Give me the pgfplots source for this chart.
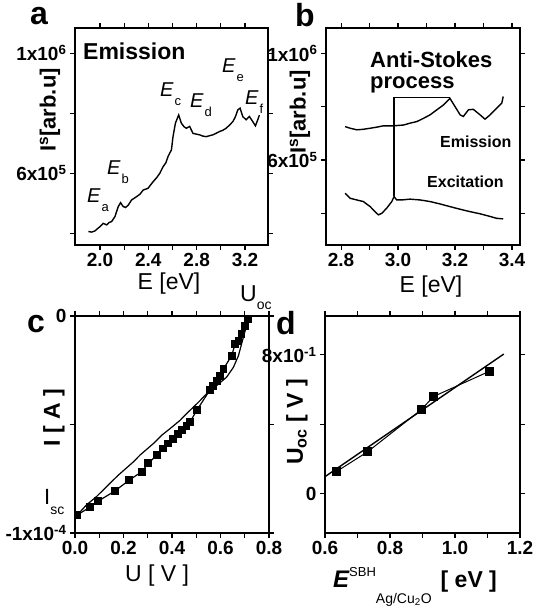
\documentclass[border=0pt]{standalone}
\usepackage{fontspec}
\setmainfont{Liberation Sans}
\usepackage{pgfplots}
\pgfplotsset{compat=1.18}
\newcommand\fs[1]{\fontsize{#1}{#1}\selectfont}
% E with a lowered subscript, as on the peaks of panel a
\newcommand\El[1]{{\itshape\fs{20}E}\hspace{1pt}\raisebox{-9pt}{\fs{13}#1}}

\pgfplotsset{
  panel/.style={
    scale only axis, anchor=south west,
    axis line style={line width=1.5pt},
    tick style={black, line width=1.2pt},
    major tick length=5pt, minor tick length=5pt,
    tick align=outside,
    scaled ticks=false,
    ticklabel style={font=\bfseries\fs{19}},
  },
  curve/.style={black, line width=1.4pt},
}

\begin{document}
\begin{tikzpicture}
\useasboundingbox (0,0) rectangle (535pt,607pt);

% ---------- a ----------
\begin{axis}[panel, at={(75pt,362pt)}, width=193pt, height=217pt,
  xmin=1.793, xmax=3.39, ymin=3.61e5, ymax=1.084e6,
  xtick={2.0,2.4,2.8,3.2}, xticklabels={2.0,2.4,2.8,3.2},
  minor xtick={2.2,2.6,3.0},
  ytick={4e5,6e5,8e5,1e6},
  yticklabels={,6x10\textsuperscript{5},,1x10\textsuperscript{6}}]
\addplot[curve] coordinates {
(1.904,4.06e5) (1.930,4.04e5) (1.959,4.08e5) (1.980,4.16e5) (2.000,4.22e5)
(2.027,4.33e5) (2.055,4.28e5) (2.075,4.36e5) (2.096,4.39e5) (2.124,4.56e5)
(2.151,4.89e5) (2.170,5.02e5) (2.192,4.89e5) (2.212,4.86e5) (2.234,4.94e5)
(2.261,5.11e5) (2.302,5.22e5) (2.330,5.30e5) (2.357,5.44e5) (2.398,5.50e5)
(2.420,5.62e5) (2.440,5.72e5) (2.470,5.86e5) (2.495,6.00e5) (2.522,6.22e5)
(2.545,6.35e5) (2.563,6.56e5) (2.591,6.78e5) (2.604,7.22e5) (2.624,7.67e5)
(2.651,7.94e5) (2.673,7.67e5) (2.695,7.55e5) (2.714,7.50e5) (2.742,7.56e5)
(2.769,7.33e5) (2.800,7.30e5) (2.824,7.28e5) (2.850,7.24e5) (2.879,7.22e5)
(2.905,7.25e5) (2.934,7.28e5) (2.960,7.33e5) (2.989,7.39e5) (3.015,7.43e5)
(3.044,7.50e5) (3.070,7.60e5) (3.099,7.72e5) (3.120,7.88e5) (3.140,8.11e5)
(3.159,8.17e5) (3.181,7.89e5) (3.209,7.78e5) (3.236,7.89e5) (3.264,7.72e5)
(3.286,7.58e5) (3.305,7.78e5) (3.319,7.94e5)};
\end{axis}

% ---------- b ----------
\begin{axis}[panel, at={(326pt,362pt)}, width=194pt, height=217pt,
  xmin=2.747, xmax=3.428, ymin=2.81e5, ymax=1.095e6,
  xtick={2.8,3.0,3.2,3.4}, xticklabels={2.8,3.0,3.2,3.4},
  minor xtick={2.9,3.1,3.3},
  ytick={4e5,6e5,8e5,1e6},
  yticklabels={,6x10\textsuperscript{5},,1x10\textsuperscript{6}}]
\addplot[curve] coordinates {
(2.814,7.25e5) (2.832,7.19e5) (2.855,7.13e5) (2.878,7.15e5) (2.902,7.19e5)
(2.925,7.23e5) (2.948,7.28e5) (2.984,7.28e5) (3.019,7.31e5) (3.042,7.38e5)
(3.066,7.44e5) (3.089,7.56e5) (3.112,7.69e5) (3.136,7.88e5) (3.159,8.06e5)
(3.182,8.31e5) (3.200,8.00e5) (3.218,7.69e5) (3.229,7.63e5) (3.247,7.88e5)
(3.264,7.90e5) (3.288,7.69e5) (3.305,7.53e5) (3.323,7.69e5) (3.346,7.94e5)
(3.364,8.13e5) (3.369,8.38e5)};
\addplot[curve] coordinates {
(2.814,4.75e5) (2.832,4.56e5) (2.855,4.50e5) (2.878,4.44e5) (2.902,4.25e5)
(2.919,4.06e5) (2.931,3.94e5) (2.943,4.00e5) (2.960,4.19e5) (2.978,4.44e5)
(2.986,4.63e5) (2.995,4.50e5) (3.013,4.50e5) (3.042,4.53e5) (3.077,4.50e5)
(3.112,4.44e5) (3.147,4.35e5) (3.182,4.25e5) (3.218,4.15e5) (3.253,4.06e5)
(3.288,3.98e5) (3.323,3.88e5) (3.346,3.81e5) (3.369,3.79e5)};
\addplot[black, line width=1.3pt] coordinates {(2.986,4.63e5) (2.986,8.34e5) (3.182,8.34e5)};
\end{axis}

% ---------- c ----------
\begin{axis}[panel, at={(75pt,74pt)}, width=194pt, height=217pt,
  xmin=0, xmax=0.8, ymin=-1e-4, ymax=0,
  xtick={0,0.2,0.4,0.6,0.8}, xticklabels={0.0,0.2,0.4,0.6,0.8},
  minor xtick={0.1,0.3,0.5,0.7},
  ytick={-1e-4,-5e-5,0},
  yticklabels={-1x10\textsuperscript{-4},,0}]
\addplot[black, line width=1.2pt, mark=square*, mark size=3.3pt] coordinates {
(0.010,-0.916e-4) (0.062,-0.881e-4) (0.096,-0.853e-4) (0.165,-0.806e-4)
(0.224,-0.756e-4) (0.275,-0.718e-4) (0.302,-0.679e-4) (0.337,-0.641e-4)
(0.364,-0.611e-4) (0.385,-0.588e-4) (0.405,-0.565e-4) (0.426,-0.542e-4)
(0.440,-0.527e-4) (0.460,-0.508e-4) (0.474,-0.489e-4) (0.502,-0.435e-4)
(0.557,-0.340e-4) (0.570,-0.321e-4) (0.584,-0.298e-4) (0.598,-0.275e-4)
(0.612,-0.244e-4) (0.646,-0.183e-4) (0.660,-0.130e-4) (0.674,-0.115e-4)
(0.687,-0.084e-4) (0.701,-0.046e-4) (0.715,-0.015e-4)};
\addplot[black, line width=1.2pt] coordinates {
(0.010,-0.916e-4) (0.048,-0.870e-4) (0.089,-0.832e-4) (0.144,-0.771e-4)
(0.179,-0.733e-4) (0.241,-0.672e-4) (0.268,-0.641e-4) (0.323,-0.588e-4)
(0.357,-0.550e-4) (0.392,-0.519e-4) (0.433,-0.481e-4) (0.460,-0.450e-4)
(0.502,-0.405e-4) (0.543,-0.359e-4) (0.584,-0.321e-4) (0.625,-0.282e-4)
(0.653,-0.237e-4) (0.674,-0.183e-4) (0.694,-0.099e-4) (0.715,-0.015e-4)};
\end{axis}

% ---------- d ----------
\begin{axis}[panel, at={(325pt,74pt)}, width=195pt, height=217pt,
  xmin=0.6, xmax=1.2, ymin=-0.225, ymax=1.023,
  xtick={0.6,0.8,1.0,1.2}, xticklabels={0.6,0.8,1.0,1.2},
  minor xtick={0.7,0.9,1.1},
  ytick={0,0.4,0.8},
  yticklabels={0,,8x10\textsuperscript{-1}}]
\addplot[curve] coordinates {(0.6,0.099) (1.15,0.804)};
\addplot[black, line width=1.0pt, mark=square*, mark size=4pt] coordinates {
(0.635,0.128) (0.731,0.242) (0.896,0.484) (0.934,0.560) (1.106,0.705)};
\end{axis}

% panel letters
\node[anchor=base, font=\bfseries\fs{32}, inner sep=0] at (39pt,582pt) {a};
\node[anchor=base, font=\bfseries\fs{32}, inner sep=0] at (305pt,580pt) {b};
\node[anchor=base, font=\bfseries\fs{32}, inner sep=0] at (36pt,274pt) {c};
\node[anchor=base, font=\bfseries\fs{32}, inner sep=0] at (286pt,272pt) {d};

% axis titles
\node[anchor=base, font=\fs{23}, inner sep=0] at (169pt,317pt) {E [eV]};
\node[anchor=base, font=\fs{23}, inner sep=0] at (431pt,314pt) {E [eV]};
\node[anchor=base, font=\fs{23}, inner sep=0] at (157pt,25pt) {U [ V ]};
\node[anchor=base west, inner sep=0] at (333pt,19pt)
  {{\bfseries\itshape\fs{24}E}\raisebox{11pt}{\fs{13}SBH}\raisebox{-15pt}{\fs{14}Ag/Cu\textsubscript{2}O}\hspace{9pt}{\bfseries\fs{23}[ eV ]}};
\node[rotate=90, font=\bfseries\fs{22}, inner sep=0] at (50pt,497pt) {I\textsuperscript{s}[arb.u]};
\node[rotate=90, font=\bfseries\fs{22}, inner sep=0] at (300pt,495pt) {I\textsuperscript{s}[arb.u]};
\node[rotate=90, font=\bfseries\fs{23}, inner sep=0] at (54pt,189pt) {I [ A ]};
\node[rotate=90, font=\bfseries\fs{23}, inner sep=0] at (297pt,185pt) {U\textsubscript{oc} [ V ]};

% texts in panel a
\node[anchor=base west, font=\bfseries\fs{23}, inner sep=0] at (83pt,547pt) {Emission};
\node[anchor=base west, inner sep=0] at (87pt,404pt) {\El{a}};
\node[anchor=base west, inner sep=0] at (107pt,432pt) {\El{b}};
\node[anchor=base west, inner sep=0] at (160pt,510pt) {\El{c}};
\node[anchor=base west, inner sep=0] at (190pt,499pt) {\El{d}};
\node[anchor=base west, inner sep=0] at (222pt,534pt) {\El{e}};
\node[anchor=base west, inner sep=0] at (245pt,502pt) {\El{f}};

% texts in panel b
\node[anchor=base west, font=\bfseries\fs{22}, inner sep=0] at (370pt,539pt) {Anti-Stokes};
\node[anchor=base west, font=\bfseries\fs{22}, inner sep=0] at (370pt,518pt) {process};
\node[anchor=base west, font=\bfseries\fs{16}, inner sep=0] at (440pt,459pt) {Emission};
\node[anchor=base west, font=\bfseries\fs{16}, inner sep=0] at (427pt,419pt) {Excitation};

% texts in panel c
\node[anchor=base west, inner sep=0] at (240pt,305pt) {{\fs{23}U}\raisebox{-8pt}{\fs{14}oc}};
\node[anchor=base west, inner sep=0] at (44pt,102pt) {{\fs{22}I}\raisebox{-10pt}{\fs{14}sc}};
\end{tikzpicture}
\end{document}
